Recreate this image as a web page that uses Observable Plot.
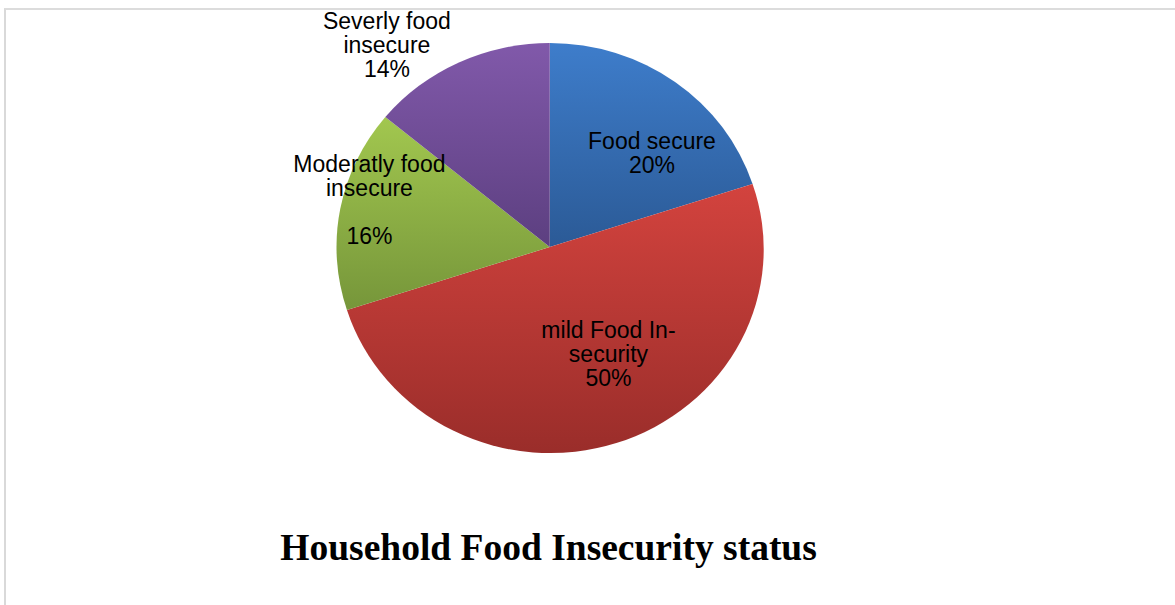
<!DOCTYPE html>
<html>
<head>
<meta charset="utf-8">
<script src="https://cdn.jsdelivr.net/npm/d3@7"></script>
<script src="https://cdn.jsdelivr.net/npm/@observablehq/plot@0.6"></script>
<style>
  html, body { margin: 0; padding: 0; background: #fff; width: 1175px; height: 605px; overflow: hidden; }
  #wrap { position: relative; width: 1175px; height: 605px; }
  #border { position: absolute; left: 4px; top: 8px; width: 1200px; height: 700px;
            border-left: 2px solid #d9d9d9; border-top: 2px solid #dcdcdc; box-sizing: border-box; }
  #chart { position: absolute; left: 0; top: 0; }
</style>
</head>
<body>
<div id="wrap"><div id="border"></div><div id="chart"></div></div>
<script>
// ---- data ----
const categories = ["Food secure", "mild Food Insecurity", "Moderatly food insecure", "Severly food insecure"];
const values = [20, 50, 16, 14];
const labelLines = ["Food secure", "mild Food In-\nsecurity", "Moderatly food\ninsecure\n", "Severly food\ninsecure"];
const title = "Household Food Insecurity status";

// ---- styling / layout (not data) ----
const gradTop = ["#3e7dcb", "#d3433e", "#a2c74f", "#8159aa"];
const gradBottom = ["#2b5a96", "#9a2d2a", "#76963a", "#5c3f80"];
const labelPos = [[0.477, 0.464], [0.273, -0.526], [-0.848, 0.229], [-0.766, 0.989]];

const slices = d3.pie().sort(null).value((d, i) => values[i])(categories);

function pieMark(index, scales) {
  const {x, y} = scales;
  const cx = x(0), cy = y(0), rx = x(1) - cx, ry = cy - y(1);
  const g = d3.create("svg:g");
  const defs = g.append("defs");
  categories.forEach((c, i) => {
    const lg = defs.append("linearGradient").attr("id", "grad" + i)
      .attr("x1", 0).attr("y1", 0).attr("x2", 0).attr("y2", 1);
    lg.append("stop").attr("offset", "0%").attr("stop-color", gradTop[i]);
    lg.append("stop").attr("offset", "100%").attr("stop-color", gradBottom[i]);
  });
  const arc = d3.arc().innerRadius(0).outerRadius(1);
  g.append("g")
    .attr("transform", `translate(${cx},${cy}) scale(${rx},${ry})`)
    .selectAll("path").data(slices).join("path")
    .attr("d", arc)
    .attr("fill", (d, i) => `url(#grad${i})`);
  return g.node();
}

const labels = categories.map((c, i) => ({
  text: labelLines[i] + "\n" + values[i] + "%",
  x: labelPos[i][0], y: labelPos[i][1]
}));

const plot = Plot.plot({
  width: 1175,
  height: 605,
  margin: 0,
  style: {background: "transparent", overflow: "visible"},
  x: {domain: [-1, 1], range: [336.5, 763], axis: null},
  y: {domain: [-1, 1], range: [451, 43], axis: null},
  marks: [
    pieMark,
    Plot.text(labels, {
      x: "x", y: "y", text: "text",
      fontSize: 23, lineHeight: 24 / 23, fill: "#000",
      fontFamily: "Liberation Sans, Arial, sans-serif",
      textAnchor: "middle", lineAnchor: "middle"
    }),
    Plot.text([title], {
      x: () => -0.008, y: () => -1.475, text: d => d,
      fontSize: 37.5, fontWeight: "bold", fill: "#000",
      fontFamily: "Liberation Serif, Times New Roman, serif",
      textAnchor: "middle", lineAnchor: "middle"
    })
  ]
});
document.getElementById("chart").appendChild(plot);
</script>
</body>
</html>
